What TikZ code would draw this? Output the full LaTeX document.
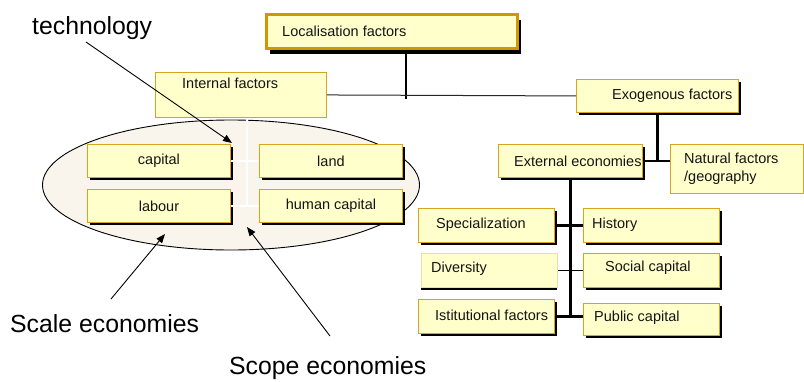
\documentclass[tikz,border=0pt]{standalone}
\usepackage{fontspec}
\setmainfont{Liberation Sans}
\usetikzlibrary{shapes.geometric,shadows,arrows.meta}
\definecolor{boxfill}{RGB}{255,255,204}
\definecolor{boxdraw}{RGB}{214,164,30}
\definecolor{locdraw}{RGB}{204,153,0}
\definecolor{paledraw}{RGB}{236,222,170}
\definecolor{ellfill}{RGB}{250,245,236}
\definecolor{txt}{RGB}{20,20,20}
\newcommand\bxfont{\fontsize{14.5}{18}\selectfont}
\newcommand\bigtxtfont{\fontsize{24.8}{29}\selectfont}
\begin{document}
\begin{tikzpicture}[x=1pt,y=-1pt,
  box/.style={draw=boxdraw, fill=boxfill, line width=0.9pt, anchor=north west, inner sep=0pt, font=\bxfont, text=txt},
  shd/.style={general shadow={fill=black, shadow xshift=3pt, shadow yshift=-3pt}},
  txtat/.style n args={3}{label={[anchor=west, inner sep=0pt, xshift=#1, yshift=#2, font=\bxfont, text=txt, align=left]west:{#3}}},
  cn/.style={line width=2.5pt, black},
  thinc/.style={line width=1pt, black!85},
  arr/.style={-{Triangle[length=9pt,width=7pt]}, line width=0.9pt},
  bigt/.style={font=\bigtxtfont, anchor=west, inner sep=0pt, text=black}
]
\useasboundingbox (0,0) rectangle (804,381);

% ellipse with internal factors
\node[ellipse, draw, line width=0.9pt, fill=ellfill, minimum width=377, minimum height=130, inner sep=0pt] (ell) at (231,185) {};

\node[box, shd, minimum width=143, minimum height=33] (cap) at (87,144) {capital};
\node[box, shd, minimum width=143, minimum height=33] (land) at (259,144) {land};
\node[box, shd, minimum width=143, minimum height=33] (lab) at (87,189) {labour};
\node[box, shd, minimum width=143, minimum height=33] (hum) at (259,189) {human capital};

\coordinate (wtop) at (247,118);
\draw[white, line width=2pt] (wtop) -- (wtop |- hum.west);
\draw[white, line width=2pt] (cap.east) -- (land.west);
\draw[white, line width=2pt] (lab.east) -- (hum.west);

% top boxes
\node[box, draw=locdraw, line width=2.5pt, general shadow={fill=black, shadow xshift=4pt, shadow yshift=-6pt},
      minimum width=251, minimum height=34, txtat={17}{0}{Localisation factors}] (loc) at (265,13) {};
\node[box, minimum width=171, minimum height=45, txtat={27}{11.5}{Internal factors}] (int) at (155,72) {};
\node[box, shd, minimum width=162, minimum height=33, txtat={36}{0}{Exogenous factors}] (exo) at (576,79) {};
\node[box, shd, minimum width=144, minimum height=33, txtat={16}{0}{External economies}] (ext) at (498,144) {};
\node[box, minimum width=133, minimum height=49, txtat={14}{0}{Natural factors\\/geography}] (nat) at (670,144) {};

% lower right boxes
\node[box, shd, minimum width=136, minimum height=34, txtat={18}{0.5}{Specialization}] (spec) at (418,208) {};
\node[box, shd, minimum width=136, minimum height=34, txtat={9}{0.5}{History}] (hist) at (583,208) {};
\node[box, draw=paledraw, general shadow={fill=black, shadow xshift=0pt, shadow yshift=-3pt},
      minimum width=136, minimum height=34, txtat={10}{2}{Diversity}] (div) at (421,253) {};
\node[box, shd, minimum width=136, minimum height=34, txtat={22}{3}{Social capital}] (soc) at (583,253) {};
\node[box, shd, minimum width=136, minimum height=34, txtat={17}{1}{Istitutional factors}] (ist) at (418,299) {};
\node[box, shd, minimum width=136, minimum height=32, txtat={11}{2}{Public capital}] (pub) at (583,303) {};

% connectors
\coordinate (lv) at (406,99);
\draw[cn] (loc.south -| lv) -- (lv);
\draw[thinc] (int.east) -- (exo.west);
\draw[cn] (exo.south) -- (exo.south |- ext.east);
\draw[cn] (ext.east) -- (ext.east -| nat.west);
\draw[cn] (ext.south) -- (ext.south |- ist.east);
\draw[cn] (spec.east) -- (hist.west);
\draw[line width=1.6pt] (div.east) -- (soc.west);
\draw[cn] (ist.east) -- (ist.east -| pub.west);

% annotations
\node[bigt] (tech) at (32,28) {technology};
\node[bigt] (scale) at (10,324) {Scale economies};
\node[bigt] (scope) at (229,368) {Scope economies};
\coordinate (techs) at (86,42);
\coordinate (teche) at (232,143);
\coordinate (scales) at (111,299);
\coordinate (scalee) at (165,234);
\coordinate (scopes) at (330,336);
\coordinate (scopee) at (247,227);
\draw[arr] (techs) -- (teche);
\draw[arr] (scales) -- (scalee);
\draw[arr] (scopes) -- (scopee);
\end{tikzpicture}
\end{document}
